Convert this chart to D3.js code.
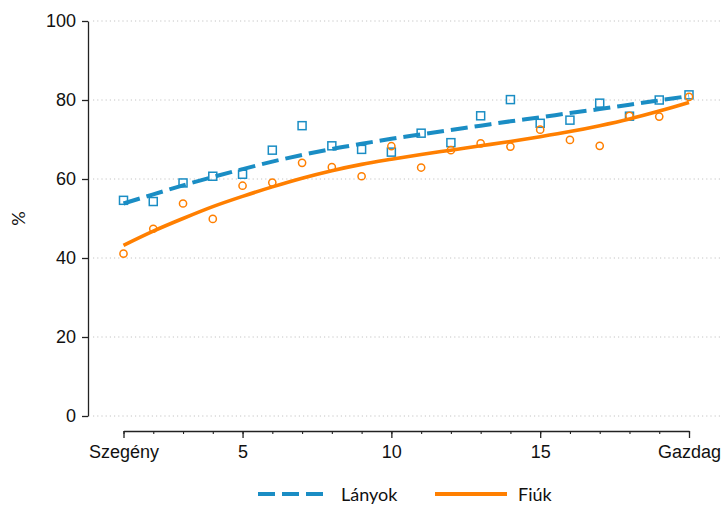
<!DOCTYPE html>
<html>
<head>
<meta charset="utf-8">
<script src="https://cdn.jsdelivr.net/npm/d3@7"></script>
<style>
  body { margin: 0; background: #fff; }
  svg { font-family: "Lato", "Open Sans", sans-serif; }
  .tick text { font-size: 18px; fill: #111; }
  .grid line { stroke: #c4c4c4; stroke-dasharray: 1.2 3; }
</style>
</head>
<body>
<svg id="chart" width="725" height="507"></svg>
<script>
// decile-like income groups 1 (poor) .. 20 (rich)
const groups = d3.range(1, 21)

// observed shares (%)
const girls_points = [54.6, 54.3, 59.0, 60.7, 61.2, 67.3, 73.5, 68.4, 67.5, 66.8,
                      71.6, 69.2, 76.0, 80.1, 74.1, 74.9, 79.2, 75.9, 80.0, 81.3]
const boys_points  = [41.1, 47.4, 53.8, 49.9, 58.3, 59.1, 64.1, 63.0, 60.7, 68.3,
                      62.9, 67.3, 69.0, 68.2, 72.5, 69.9, 68.4, 76.0, 75.8, 80.8]

// fitted curves
const girls_fit = [53.8, 56.1, 58.4, 60.5, 62.5, 64.4, 66.1, 67.6, 68.9, 70.2,
                   71.3, 72.4, 73.5, 74.6, 75.6, 76.7, 77.7, 78.8, 79.9, 81.0]
const boys_fit  = [43.2, 46.8, 50.0, 53.0, 55.6, 58.0, 60.2, 62.1, 63.7, 65.0,
                   66.2, 67.3, 68.4, 69.5, 70.7, 72.0, 73.5, 75.2, 77.2, 79.4]

const y_ticks = [0, 20, 40, 60, 80, 100]
const x_ticks = [1, 5, 10, 15, 20]
const x_labels = {1: "Szegény", 5: "5", 10: "10", 15: "15", 20: "Gazdag"}

const blue = "#1a8dc4"
const orange = "#ff7f00"

const svg = d3.select("#chart")

const x = d3.scaleLinear().domain([1, 20]).range([123.5, 689])
const y = d3.scaleLinear().domain([0, 100]).range([416, 21])

// gridlines
svg.append("g")
  .attr("class", "grid")
  .selectAll("line")
  .data(y_ticks)
  .enter()
  .append("line")
  .attr("x1", 93)
  .attr("x2", 722)
  .attr("y1", d => y(d))
  .attr("y2", d => y(d))

// y axis
const y_axis = svg.append("g")
  .attr("transform", "translate(88,0)")
  .call(d3.axisLeft(y).tickValues(y_ticks).tickSize(6).tickSizeOuter(0).tickPadding(6))
y_axis.select(".domain").attr("stroke", "#222").attr("stroke-width", 1.3)
y_axis.selectAll(".tick line").attr("stroke", "#222").attr("stroke-width", 1.3)

// x axis: minor ticks then major ticks with labels
const x_minor = svg.append("g")
  .attr("transform", "translate(0,431)")
  .call(d3.axisBottom(x).tickValues(groups).tickSize(3).tickSizeOuter(0).tickFormat(""))
x_minor.select(".domain").attr("stroke", "#222").attr("stroke-width", 1.3)
x_minor.selectAll(".tick line").attr("stroke", "#222").attr("stroke-width", 1.1)

const x_major = svg.append("g")
  .attr("transform", "translate(0,431)")
  .call(d3.axisBottom(x).tickValues(x_ticks).tickSize(7).tickSizeOuter(0).tickPadding(7)
    .tickFormat(d => x_labels[d]))
x_major.select(".domain").remove()
x_major.selectAll(".tick line").attr("stroke", "#222").attr("stroke-width", 1.3)

// y title
svg.append("text")
  .attr("transform", `translate(25,${y(50)}) rotate(-90)`)
  .attr("text-anchor", "middle")
  .attr("font-size", 18)
  .attr("fill", "#111")
  .text("%")

// observed points
svg.append("g").selectAll("rect")
  .data(girls_points)
  .enter()
  .append("rect")
  .attr("x", (d, i) => x(groups[i]) - 4)
  .attr("y", d => y(d) - 4)
  .attr("width", 8)
  .attr("height", 8)
  .attr("fill", "none")
  .attr("stroke", blue)
  .attr("stroke-width", 1.5)

svg.append("g").selectAll("circle")
  .data(boys_points)
  .enter()
  .append("circle")
  .attr("cx", (d, i) => x(groups[i]))
  .attr("cy", d => y(d))
  .attr("r", 3.6)
  .attr("fill", "none")
  .attr("stroke", orange)
  .attr("stroke-width", 1.5)

// fitted lines
const line = d3.line()
  .x((d, i) => x(groups[i]))
  .y(d => y(d))
  .curve(d3.curveMonotoneX)

svg.append("path")
  .datum(girls_fit)
  .attr("d", line)
  .attr("fill", "none")
  .attr("stroke", blue)
  .attr("stroke-width", 4)
  .attr("stroke-dasharray", "17 7")

svg.append("path")
  .datum(boys_fit)
  .attr("d", line)
  .attr("fill", "none")
  .attr("stroke", orange)
  .attr("stroke-width", 3.6)

// legend
const legend = [
  {label: "Lányok", color: blue, dash: "17 7", x: 258},
  {label: "Fiúk", color: orange, dash: null, x: 435},
]
const lg = svg.append("g").attr("transform", "translate(0,494)")
legend.forEach(item => {
  lg.append("line")
    .attr("x1", item.x)
    .attr("x2", item.x + 72)
    .attr("y1", 0)
    .attr("y2", 0)
    .attr("stroke", item.color)
    .attr("stroke-width", 4)
    .attr("stroke-dasharray", item.dash)
  lg.append("text")
    .attr("x", item.x + 83)
    .attr("y", 7)
    .attr("font-size", 18)
    .attr("fill", "#111")
    .text(item.label)
})
</script>
</body>
</html>
